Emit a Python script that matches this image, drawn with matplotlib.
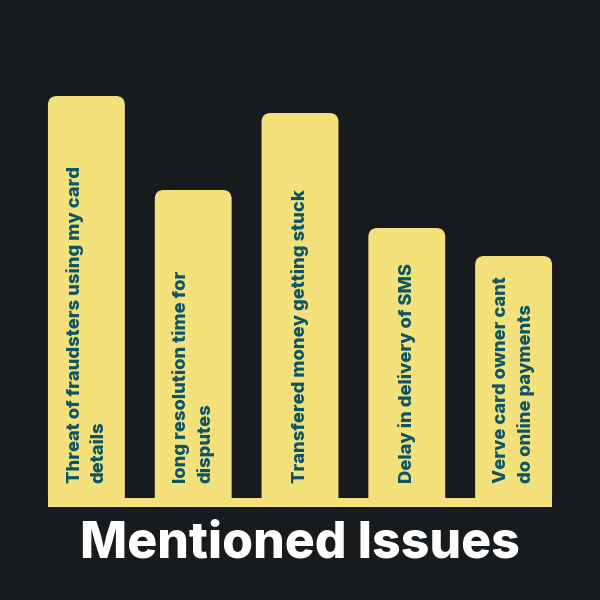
import matplotlib
matplotlib.use("Agg")
import matplotlib.pyplot as plt
from matplotlib.patches import FancyBboxPatch, Rectangle

# data (bar heights, in px above the base strip)
issues = [
    "Threat of fraudsters using my card\ndetails",
    "long resolution time for\ndisputes",
    "Transfered money getting stuck",
    "Delay in delivery of SMS",
    "Verve card owner cant\ndo online payments",
]
counts = [411, 317, 394, 279, 251]
title = "Mentioned Issues"

bg = "#171b1e"
bar_color = "#f4e17b"
text_color = "#0b5466"

fig = plt.figure(figsize=(6, 6), dpi=100, facecolor=bg)
ax = fig.add_axes([0.055, 0.155, 0.89, 0.8333])
ax.set_facecolor(bg)
ax.set_xlim(-0.5, len(counts) - 0.5)
ax.set_ylim(0, 500)
ax.axis("off")

w = 0.72
px_x = 1 / 106.75  # x data units per pixel

for i, (lab, v) in enumerate(zip(issues, counts)):
    box = FancyBboxPatch((i - w / 2, 0), w, v,
                         boxstyle="round,pad=0,rounding_size=%f" % (9 * px_x),
                         mutation_aspect=1 / px_x,
                         fc=bar_color, ec="none")
    ax.add_patch(box)
    ax.text(i, 24, lab, rotation=90, ha="center", va="bottom",
            multialignment="left", linespacing=1.5,
            color=text_color, fontsize=13.3, fontweight="heavy",
            family=["Inter", "DejaVu Sans"])

# yellow strip joining the bars at the bottom
ax.add_patch(Rectangle((-w / 2, 0), len(counts) - 1 + w, 9, fc=bar_color, ec="none"))

fig.text(0.5, 0.093, title, ha="center", va="center", color="white",
         fontsize=36, fontweight="heavy", family=["Inter", "DejaVu Sans"])

fig.savefig("out.png", dpi=100, facecolor=bg)
